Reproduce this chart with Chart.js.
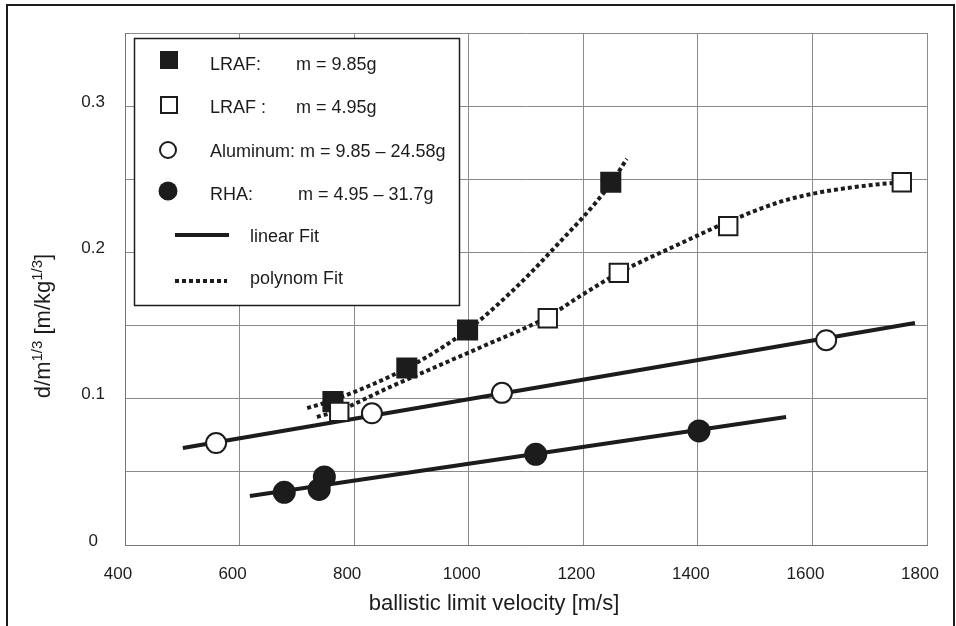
<!DOCTYPE html>
<html>
<head>
<meta charset="utf-8">
<script src="https://cdn.jsdelivr.net/npm/chart.js@4.4.1/dist/chart.umd.min.js"></script>
<style>
  html, body { margin: 0; padding: 0; background: #fff; }
  #wrap { width: 956px; height: 626px; position: relative; }
</style>
</head>
<body>
<div id="wrap"><canvas id="chart" width="956" height="626"></canvas></div>
<script>
// ---- data ----
const lraf985X = [763, 892, 998, 1248];
const lraf985Y = [0.098, 0.121, 0.147, 0.248];
const lraf495X = [774, 1138, 1262, 1453, 1756];
const lraf495Y = [0.091, 0.155, 0.186, 0.218, 0.248];
const aluX = [559, 831, 1058, 1624];
const aluY = [0.0697, 0.090, 0.104, 0.140];
const rhaX = [678, 739, 748, 1117, 1402];
const rhaY = [0.036, 0.038, 0.0465, 0.062, 0.078];

// fit curves
const aluFitX = [501, 1779];
const aluFitY = [0.0663, 0.1517];
const rhaFitX = [618, 1554];
const rhaFitY = [0.0335, 0.0875];
const poly985X = [718, 763, 892, 998, 1077, 1142, 1248, 1276];
const poly985Y = [0.0936, 0.099, 0.121, 0.147, 0.174, 0.200, 0.247, 0.264];
const poly495X = [735, 774, 857, 938, 1020, 1138, 1194, 1262, 1369, 1453, 1543, 1599, 1660, 1718, 1756];
const poly495Y = [0.0875, 0.092, 0.107, 0.121, 0.135, 0.156, 0.170, 0.186, 0.206, 0.221, 0.2345, 0.240, 0.244, 0.2467, 0.248];

const xTicks = [400, 600, 800, 1000, 1200, 1400, 1600, 1800];
const yTickLabels = ["0", "0.1", "0.2", "0.3"];

const xTitle = "ballistic limit velocity [m/s]";
const legendRows = [
  { label: "LRAF:", mass: "m = 9.85g" },
  { label: "LRAF :", mass: "m = 4.95g" },
  { label: "Aluminum: m = 9.85 \u2013 24.58g", mass: "" },
  { label: "RHA:", mass: "m = 4.95 \u2013 31.7g" },
  { label: "linear Fit" },
  { label: "polynom Fit" }
];

function pts(xs, ys){
  return xs.map((x, i) => ({ x: x, y: ys[i] }));
}

const INK = "#1c1c1c";
const FONT = '"Liberation Sans", Arial, sans-serif';

/* ================= custom drawing: titles, frame, legend ================= */

const decor = {
  id: "decor",
  afterDraw(chart){
    const c = chart.ctx;
    c.save();

    // outer frame
    c.strokeStyle = INK;
    c.lineWidth = 2;
    c.beginPath();
    c.moveTo(7, 626);
    c.lineTo(7, 5);
    c.lineTo(954, 5);
    c.lineTo(954, 626);
    c.stroke();

    // x title
    c.fillStyle = INK;
    c.font = "22px " + FONT;
    c.textAlign = "center";
    c.textBaseline = "middle";
    c.fillText(xTitle, 494, 604);

    // y title with superscripts
    c.translate(42, 326);
    c.rotate(-Math.PI / 2);
    const big = "22px " + FONT, small = "15px " + FONT;
    const parts = [["d/m", big, 0], ["1/3", small, -8], [" [m/kg", big, 0], ["1/3", small, -8], ["]", big, 0]];
    let total = 0;
    parts.forEach(p => { c.font = p[1]; total += c.measureText(p[0]).width; });
    let px = -total / 2;
    c.textAlign = "left";
    c.textBaseline = "alphabetic";
    parts.forEach(p => {
      c.font = p[1];
      c.fillText(p[0], px, 8 + p[2]);
      px += c.measureText(p[0]).width;
    });
    c.setTransform(1, 0, 0, 1, 0, 0);

    // legend box
    c.fillStyle = "#fff";
    c.fillRect(134, 38, 326, 268);
    c.strokeStyle = INK;
    c.lineWidth = 1.5;
    c.strokeRect(134.5, 38.5, 325, 267);

    // markers
    c.fillStyle = INK;
    c.fillRect(160, 51, 18, 18);
    c.lineWidth = 2;
    c.fillStyle = "#fff";
    c.fillRect(161, 97, 16, 16);
    c.strokeRect(161, 97, 16, 16);
    c.beginPath();
    c.arc(168, 150, 8, 0, Math.PI * 2);
    c.fill();
    c.stroke();
    c.fillStyle = INK;
    c.beginPath();
    c.arc(168, 191, 9.5, 0, Math.PI * 2);
    c.fill();

    c.lineWidth = 4;
    c.beginPath();
    c.moveTo(175, 235); c.lineTo(229, 235);
    c.stroke();
    c.setLineDash([4, 3]);
    c.beginPath();
    c.moveTo(175, 281); c.lineTo(227, 281);
    c.stroke();
    c.setLineDash([]);

    // legend text
    c.fillStyle = INK;
    c.font = "18px " + FONT;
    c.textAlign = "left";
    c.textBaseline = "middle";
    const rowY = [65, 108, 152, 195, 237, 279];
    const massX = [296, 296, 0, 298];
    legendRows.forEach((r, i) => {
      const lx = i < 4 ? 210 : 250;
      c.fillText(r.label, lx, rowY[i]);
      if (r.mass) c.fillText(r.mass, massX[i], rowY[i]);
    });

    c.restore();
  }
};

/* ================= CHART ================= */

const marker = (data, style, radius, fill, order) => ({
  data: data,
  showLine: false,
  pointStyle: style,
  pointRadius: radius,
  pointBackgroundColor: fill,
  pointBorderColor: INK,
  pointBorderWidth: 2,
  order: order
});

const fit = (data, dashed) => ({
  data: data,
  showLine: true,
  borderColor: INK,
  borderWidth: 4,
  borderDash: dashed ? [4, 3] : [],
  borderCapStyle: "butt",
  pointRadius: 0,
  cubicInterpolationMode: dashed ? "monotone" : "default",
  tension: 0,
  order: 10
});

new Chart(document.getElementById("chart"), {
  type: "scatter",
  data: {
    datasets: [
      marker(pts(lraf495X, lraf495Y), "rect", 13, "#fff", 1),
      marker(pts(lraf985X, lraf985Y), "rect", 13.5, INK, 2),
      marker(pts(aluX, aluY), "circle", 10, "#fff", 3),
      marker(pts(rhaX, rhaY), "circle", 10.5, INK, 4),
      fit(pts(aluFitX, aluFitY), false),
      fit(pts(rhaFitX, rhaFitY), false),
      fit(pts(poly985X, poly985Y), true),
      fit(pts(poly495X, poly495Y), true)
    ]
  },
  options: {
    responsive: false,
    animation: false,
    layout: { padding: { top: 33, right: 29, left: 0, bottom: 0 } },
    plugins: { legend: { display: false }, tooltip: { enabled: false } },
    scales: {
      x: {
        type: "linear",
        min: xTicks[0],
        max: xTicks[xTicks.length - 1],
        afterBuildTicks: s => { s.ticks = xTicks.map(v => ({ value: v })); },
        afterFit: s => { s.height = 81; s.paddingLeft = 0; s.paddingRight = 0; },
        border: { color: "#777", width: 1 },
        grid: { color: "#8a8a8a", lineWidth: 1, drawTicks: false },
        ticks: {
          color: INK,
          font: { family: FONT, size: 17 },
          padding: 19,
          labelOffset: -7,
          maxRotation: 0,
          callback: v => String(v)
        }
      },
      y: {
        type: "linear",
        min: 0,
        max: 0.35,
        afterBuildTicks: s => {
          s.ticks = [0, 0.05, 0.1, 0.15, 0.2, 0.25, 0.3, 0.35].map(v => ({ value: v }));
        },
        afterFit: s => { s.width = 125; s.paddingTop = 0; s.paddingBottom = 0; },
        border: { color: "#777", width: 1 },
        grid: { color: "#8a8a8a", lineWidth: 1, drawTicks: false },
        ticks: {
          color: INK,
          font: { family: FONT, size: 17 },
          padding: 20,
          crossAlign: "center",
          labelOffset: -4,
          callback: (v, i) => (i % 2 === 0 && i / 2 < yTickLabels.length) ? yTickLabels[i / 2] : ""
        }
      }
    }
  },
  plugins: [decor]
});
</script>
</body>
</html>
